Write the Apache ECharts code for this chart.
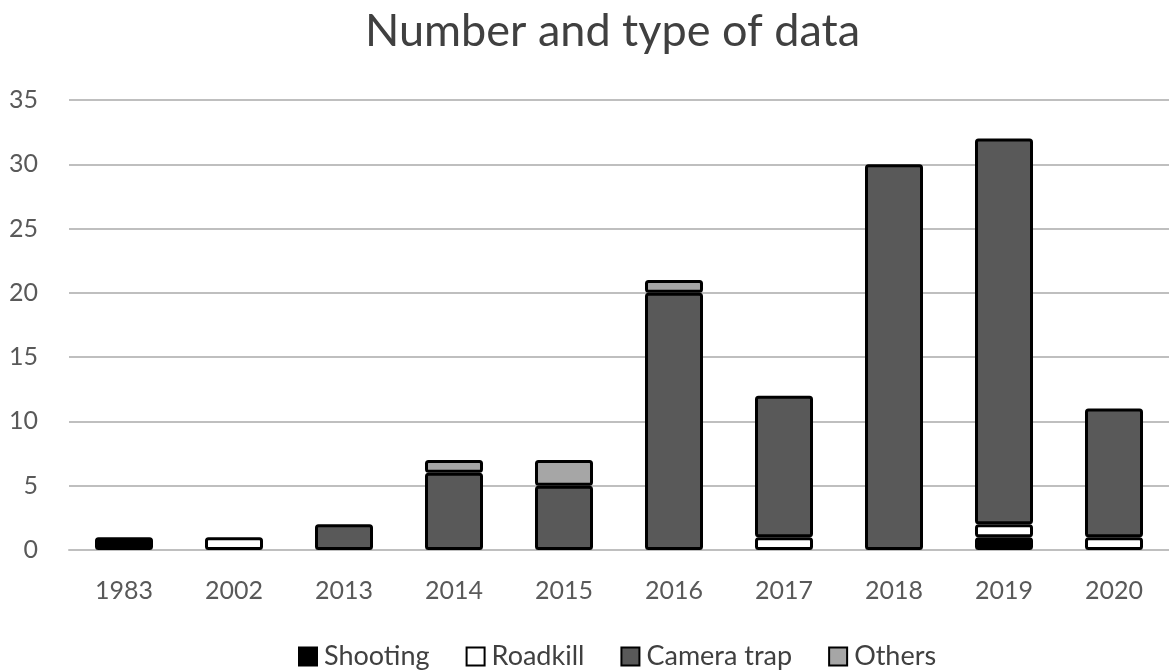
<!DOCTYPE html>
<html>
<head>
<meta charset="utf-8">
<script src="https://cdn.jsdelivr.net/npm/echarts@6/dist/echarts.min.js"></script>
<style>
  html, body { margin: 0; padding: 0; background: #fff; }
  #chart { width: 1169px; height: 671px; }
</style>
</head>
<body>
<div id="chart"></div>
<script>
// Data
const years = ['1983', '2002', '2013', '2014', '2015', '2016', '2017', '2018', '2019', '2020'];
const shooting = [1, 0, 0, 0, 0, 0, 0, 0, 1, 0];
const roadkill = [0, 1, 0, 0, 0, 0, 1, 0, 1, 1];
const cameraTrap = [0, 0, 2, 6, 5, 20, 11, 30, 30, 10];
const others = [0, 0, 0, 1, 2, 1, 0, 0, 0, 0];

const font = 'Lato, "Open Sans", sans-serif';

const makeSerie = (name, values, color) => ({
    name: name,
    type: 'bar',
    stack: 'total',
    barWidth: 58,
    data: values.map(v => v === 0 ? null : v),
    itemStyle: {
        color: color,
        borderColor: '#000',
        borderWidth: 3,
        borderRadius: 2
    }
});

let myChart = echarts.init(document.getElementById('chart'));

const option = {
    backgroundColor: '#fff',
    animation: false,
    title: {
        text: 'Number and type of data',
        left: 360,
        top: 4,
        textStyle: { fontFamily: font, fontSize: 45, fontWeight: 'normal', color: '#404040' }
    },
    legend: {
        data: ['Shooting', 'Roadkill', 'Camera trap', 'Others'],
        bottom: -4,
        left: 293,
        itemWidth: 18,
        itemHeight: 18,
        itemGap: 36,
        icon: 'rect',
        textStyle: { fontFamily: font, fontSize: 27, color: '#404040', padding: [0, 0, 0, 2] }
    },
    grid: { left: 69, right: 0, top: 100, bottom: 121 },
    xAxis: {
        type: 'category',
        data: years,
        axisTick: { show: false },
        axisLine: { show: true, lineStyle: { color: '#bfbfbf', width: 2 } },
        axisLabel: { fontFamily: font, fontSize: 25, color: '#595959', margin: 28 }
    },
    yAxis: {
        type: 'value',
        min: 0,
        max: 35,
        interval: 5,
        axisLine: { show: false },
        axisTick: { show: false },
        splitLine: { lineStyle: { color: '#bfbfbf', width: 2 } },
        axisLabel: { fontFamily: font, fontSize: 25, color: '#595959', margin: 31 }
    },
    series: [
        makeSerie('Shooting', shooting, '#000000'),
        makeSerie('Roadkill', roadkill, '#ffffff'),
        makeSerie('Camera trap', cameraTrap, '#595959'),
        makeSerie('Others', others, '#a6a6a6')
    ]
};

myChart.setOption(option, true);
</script>
</body>
</html>
